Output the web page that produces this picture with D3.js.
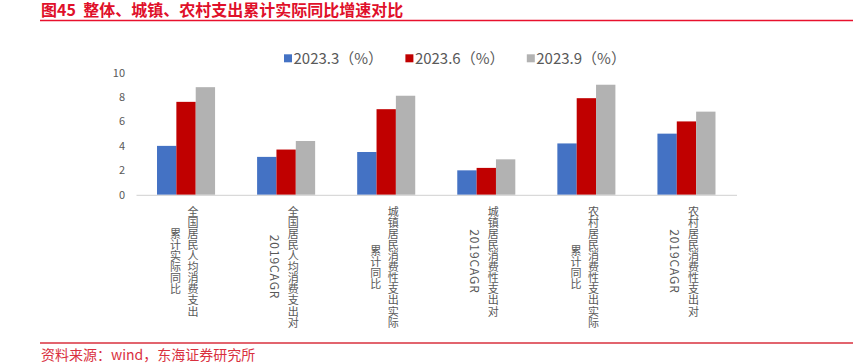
<!DOCTYPE html>
<html>
<head>
<meta charset="utf-8">
<script src="https://cdn.jsdelivr.net/npm/d3@7"></script>
<style>
  html, body { margin: 0; padding: 0; background: #fff; }
  svg { display: block; }
  text { font-family: "Microsoft YaHei", "Noto Sans CJK SC", "Noto Sans", sans-serif; }
</style>
</head>
<body>
<div id="chart"></div>
<script>
const categories = [
  ["全国居民人均消费支出", "累计实际同比"],
  ["全国居民人均消费支出对", "2019CAGR"],
  ["城镇居民消费性支出实际", "累计同比"],
  ["城镇居民消费性支出对", "2019CAGR"],
  ["农村居民消费性支出实际", "累计同比"],
  ["农村居民消费性支出对", "2019CAGR"]
];
const seriesNames = ["2023.3（%）", "2023.6（%）", "2023.9（%）"];
const values2023_3 = [4.0, 3.1, 3.5, 2.0, 4.2, 5.0];
const values2023_6 = [7.6, 3.7, 7.0, 2.2, 7.9, 6.0];
const values2023_9 = [8.8, 4.4, 8.1, 2.9, 9.0, 6.8];
const yTicks = [0, 2, 4, 6, 8, 10];
const colors = ["#4472C4", "#C00000", "#B2B2B2"];
const titleText = "图45  整体、城镇、农村支出累计实际同比增速对比";
const sourceText = "资料来源：wind，东海证券研究所";

const W = 853, H = 363;
const svg = d3.select("#chart").append("svg").attr("width", W).attr("height", H);

const series = [values2023_3, values2023_6, values2023_9];
const catIdx = d3.range(categories.length);

const x = d3.scaleBand().domain(catIdx).range([136, 736.5]).paddingInner(0.42).paddingOuter(0.21);
const xs = d3.scaleBand().domain(d3.range(series.length)).range([0, x.bandwidth()]);
const y = d3.scaleLinear().domain([0, 10]).range([194.8, 72.5]);

// title
svg.append("text").attr("x", 41).attr("y", 16)
  .attr("fill", "#E0102A").attr("font-size", 16).attr("font-weight", "bold")
  .style("white-space", "pre").text(titleText);
svg.append("line").attr("x1", 40).attr("x2", W).attr("y1", 20.5).attr("y2", 20.5)
  .attr("stroke", "#E8112D").attr("stroke-width", 1.5);

// y axis labels
const yAxis = d3.axisLeft(y).tickValues(yTicks).tickSize(0).tickPadding(11);
const gy = svg.append("g").attr("transform", "translate(136,0)").call(yAxis);
gy.select(".domain").remove();
gy.selectAll("text").attr("fill", "#595959").attr("font-size", 11)
  .style("font-family", "\"Microsoft YaHei\", \"Noto Sans CJK SC\", sans-serif");

// bars
const groups = svg.append("g").selectAll("g").data(series).join("g")
  .attr("fill", (d, i) => colors[i]);
groups.each(function(vals, si) {
  d3.select(this).selectAll("rect").data(vals).join("rect")
    .attr("x", (v, ci) => x(ci) + xs(si))
    .attr("width", xs.bandwidth())
    .attr("y", v => y(v))
    .attr("height", v => y(0) - y(v));
});

// x axis line
const xAxis = d3.axisBottom(x).tickSize(0).tickFormat("");
const gx = svg.append("g").attr("transform", `translate(0,${y(0)})`).call(xAxis);
gx.select(".domain").attr("stroke", "#D9D9D9").attr("stroke-width", 1.2);

// category labels (vertical text: CJK upright, Latin rotated)
const labelTop = 206;
const charH = 11.1;
const isLatin = s => /^[\x00-\x7F]+$/.test(s);
const labels = svg.append("g").attr("fill", "#595959");
catIdx.forEach(ci => {
  const lines = categories[ci];
  const cx = x(ci) + x.bandwidth() / 2;
  const maxLen = d3.max(lines, l => isLatin(l) ? 0 : l.length) * charH;
  const cy = labelTop + maxLen / 2;
  const offsets = [7, -10.5];
  lines.forEach((ln, li) => {
    const lxp = cx + offsets[li];
    if (isLatin(ln)) {
      labels.append("text")
        .attr("transform", `translate(${lxp},${cy}) rotate(90)`)
        .attr("text-anchor", "middle").attr("dominant-baseline", "central")
        .attr("font-size", 12).style("letter-spacing", "0.9px")
        .text(ln);
    } else {
      labels.append("text")
        .attr("x", lxp).attr("y", cy)
        .attr("text-anchor", "middle")
        .attr("font-size", 11).style("letter-spacing", "0.1px")
        .style("writing-mode", "vertical-rl")
        .text(ln);
    }
  });
});

// legend
const legend = svg.append("g");
seriesNames.forEach((name, i) => {
  const lx = 284 + i * 121.4;
  legend.append("rect").attr("x", lx).attr("y", 54.3).attr("width", 8).attr("height", 8).attr("fill", colors[i]);
  legend.append("text").attr("x", lx + 9.5).attr("y", 63.8)
    .attr("fill", "#595959").attr("font-size", 15)
    .text(name);
});

// footer
svg.append("line").attr("x1", 40).attr("x2", W).attr("y1", 343).attr("y2", 343)
  .attr("stroke", "#D9303E").attr("stroke-width", 1.4);
svg.append("text").attr("x", 41).attr("y", 360)
  .attr("fill", "#D9303E").attr("font-size", 14).text(sourceText);
</script>
</body>
</html>
